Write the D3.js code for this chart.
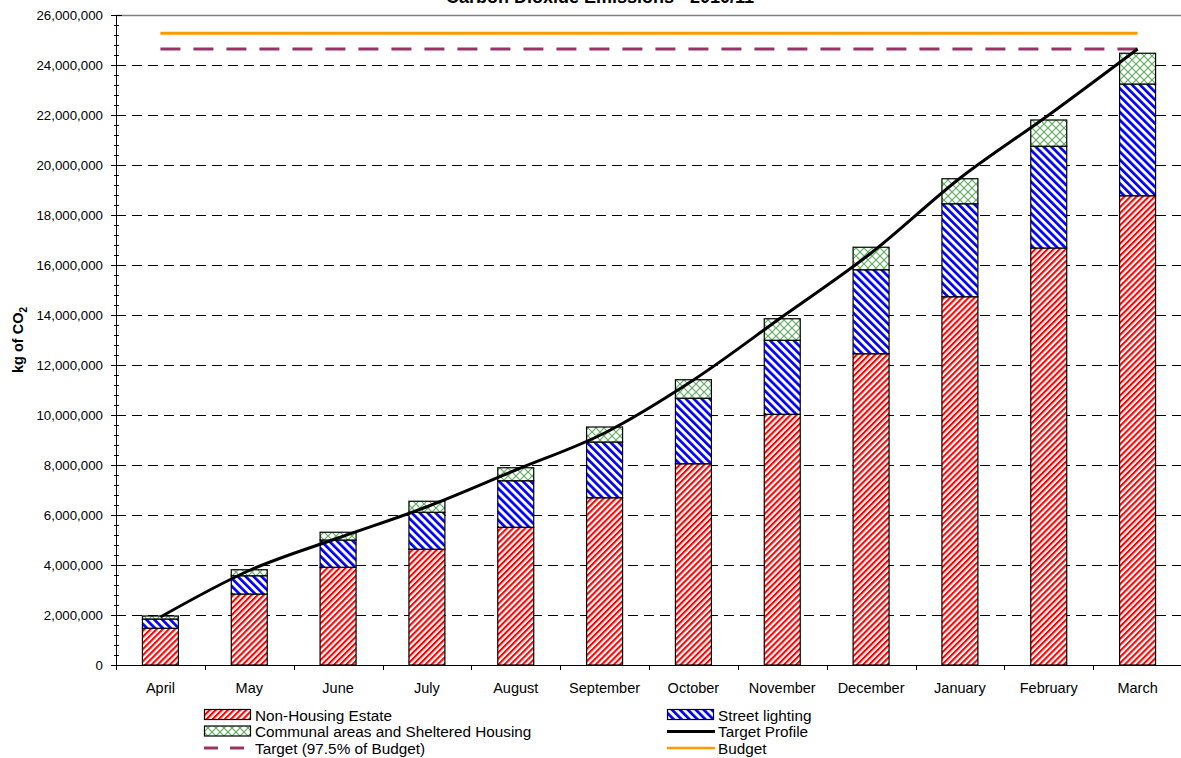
<!DOCTYPE html>
<html>
<head>
<meta charset="utf-8">
<script src="https://cdn.jsdelivr.net/npm/d3@7"></script>
<style>
  html, body { margin: 0; padding: 0; background: #fff; }
  svg { display: block; font-family: Arial, "Liberation Sans", sans-serif; }
</style>
</head>
<body>
<svg id="chart" width="1181" height="758"></svg>
<script>
// ---- data ----
const title = "Carbon Dioxide Emissions - 2010/11";
const months = ["April","May","June","July","August","September","October","November","December","January","February","March"];
const nonHousingEstate = [1470000, 2840000, 3910000, 4630000, 5510000, 6690000, 8050000, 10030000, 12450000, 14730000, 16680000, 18770000];
const streetLighting   = [370000, 730000, 1090000, 1480000, 1860000, 2230000, 2620000, 2960000, 3360000, 3720000, 4070000, 4470000];
const communalAreas    = [120000, 240000, 310000, 440000, 520000, 600000, 740000, 860000, 900000, 1000000, 1050000, 1230000];
const targetProfile    = [1920000, 3780000, 5080000, 6330000, 7800000, 9280000, 11400000, 13930000, 16480000, 19470000, 22000000, 24640000];
const budgetValue = 25270000;
const targetValue = 24638250; // 97.5% of budget
const yTicks = [0, 2000000, 4000000, 6000000, 8000000, 10000000, 12000000, 14000000, 16000000, 18000000, 20000000, 22000000, 24000000, 26000000];
const seriesNames = ["Non-Housing Estate", "Street lighting", "Communal areas and Sheltered Housing"];

// ---- layout ----
const svg = d3.select("#chart");
const L = 116, R = 1182, T = 15, B = 665;

const x = d3.scaleBand().domain(months).range([L, R]).paddingInner(0.595).paddingOuter(0.2975);
const y = d3.scaleLinear().domain([0, 26000000]).range([B, T]);

// ---- patterns ----
const defs = svg.append("defs");
function stripe(id, color, size, width, angle) {
  const p = defs.append("pattern").attr("id", id).attr("patternUnits", "userSpaceOnUse")
    .attr("width", size).attr("height", size).attr("patternTransform", `rotate(${angle})`);
  p.append("rect").attr("width", size).attr("height", size).attr("fill", "#fff");
  p.append("rect").attr("x", 0).attr("y", 0).attr("width", width).attr("height", size).attr("fill", color);
}
stripe("pRed", "#ff0000", 4.3, 2.1, 45);
stripe("pBlue", "#0000ff", 5.6, 2.7, -45);
(function () {
  const s = 8;
  const p = defs.append("pattern").attr("id", "pGreen").attr("patternUnits", "userSpaceOnUse")
    .attr("width", s).attr("height", s);
  p.append("rect").attr("width", s).attr("height", s).attr("fill", "#fff");
  p.append("path").attr("d", `M0,0L${s},${s}M${s},0L0,${s}`).attr("stroke", "#5fae5f").attr("stroke-width", 1.2).attr("fill", "none");
})();
const fills = ["url(#pRed)", "url(#pBlue)", "url(#pGreen)"];

// ---- grid ----
svg.append("g").selectAll("line").data(yTicks.filter(d => d > 0 && d < 26000000)).join("line")
  .attr("x1", L).attr("x2", R).attr("y1", d => y(d) + 0.5).attr("y2", d => y(d) + 0.5)
  .attr("stroke", "#000").attr("stroke-width", 1).attr("stroke-dasharray", "10,6");
// top border
svg.append("line").attr("x1", L).attr("x2", R).attr("y1", T + 0.5).attr("y2", T + 0.5)
  .attr("stroke", "#808080").attr("stroke-width", 1.5);

// ---- stacked bars ----
const rows = months.map((m, i) => ({ month: m, a: nonHousingEstate[i], b: streetLighting[i], c: communalAreas[i] }));
const stack = d3.stack().keys(["a", "b", "c"])(rows);
const gBars = svg.append("g");
stack.forEach((layer, k) => {
  gBars.append("g").selectAll("rect").data(layer).join("rect")
    .attr("x", d => x(d.data.month))
    .attr("y", d => y(d[1]))
    .attr("width", x.bandwidth())
    .attr("height", d => y(d[0]) - y(d[1]))
    .attr("fill", fills[k])
    .attr("stroke", "#000").attr("stroke-width", 1.2);
});

// ---- budget / target lines ----
const first = x(months[0]) + x.bandwidth() / 2, last = x(months[months.length - 1]) + x.bandwidth() / 2;
svg.append("line").attr("x1", first).attr("x2", last).attr("y1", y(budgetValue)).attr("y2", y(budgetValue))
  .attr("stroke", "#ff9900").attr("stroke-width", 3);
svg.append("line").attr("x1", first).attr("x2", last).attr("y1", y(targetValue)).attr("y2", y(targetValue))
  .attr("stroke", "#993366").attr("stroke-width", 3).attr("stroke-dasharray", "20,13");

// ---- target profile (smoothed, as in the original) ----
svg.append("path").datum(targetProfile)
  .attr("d", d3.line().curve(d3.curveCatmullRom.alpha(0)).x((d, i) => x(months[i]) + x.bandwidth() / 2).y(d => y(d)))
  .attr("fill", "none").attr("stroke", "#000").attr("stroke-width", 3);

// ---- axes ----
const yAxis = svg.append("g");
yAxis.append("line").attr("x1", L + 0.5).attr("x2", L + 0.5).attr("y1", T).attr("y2", B + 4).attr("stroke", "#000");
const minor = d3.range(0, 26000001, 400000).filter(d => d % 2000000 !== 0);
yAxis.selectAll(".mn").data(minor).join("line").attr("class", "mn")
  .attr("x1", L - 2).attr("x2", L + 3).attr("y1", d => y(d) + 0.5).attr("y2", d => y(d) + 0.5).attr("stroke", "#000");
yAxis.selectAll(".mj").data(yTicks).join("line").attr("class", "mj")
  .attr("x1", L - 5).attr("x2", L + 6).attr("y1", d => y(d) + 0.5).attr("y2", d => y(d) + 0.5).attr("stroke", "#000");
yAxis.selectAll("text").data(yTicks).join("text")
  .attr("x", L - 13).attr("y", d => y(d)).attr("dy", "0.36em").attr("text-anchor", "end")
  .attr("font-size", 13.3).text(d => d3.format(",")(d));

const xAxis = svg.append("g");
xAxis.append("line").attr("x1", L).attr("x2", R).attr("y1", B + 0.5).attr("y2", B + 0.5).attr("stroke", "#000");
const bounds = months.map((m, i) => L + i * x.step());
xAxis.selectAll(".tk").data(bounds).join("line").attr("class", "tk")
  .attr("x1", d => Math.round(d) + 0.5).attr("x2", d => Math.round(d) + 0.5).attr("y1", B).attr("y2", B + 5).attr("stroke", "#000");
xAxis.selectAll("text").data(months).join("text")
  .attr("x", d => x(d) + x.bandwidth() / 2).attr("y", B + 28).attr("text-anchor", "middle")
  .attr("font-size", 14.5).text(d => d);

// y title
svg.append("text").attr("transform", "translate(23,340) rotate(-90)").attr("text-anchor", "middle")
  .attr("font-size", 14.5).attr("font-weight", "bold")
  .html('kg of CO<tspan font-size="10" dy="4">2</tspan>');

// title (clipped at top, as in the original)
svg.append("text").attr("x", 600).attr("y", 3).attr("text-anchor", "middle")
  .attr("font-size", 18).attr("font-weight", "bold").text(title);

// ---- legend ----
const lg = svg.append("g").attr("font-size", 15.3);
const rowY = [715, 731.5, 748];
const items = [
  { col: 0, row: 0, type: "box", fill: fills[0], label: seriesNames[0] },
  { col: 1, row: 0, type: "box", fill: fills[1], label: seriesNames[1] },
  { col: 0, row: 1, type: "box", fill: fills[2], label: seriesNames[2] },
  { col: 1, row: 1, type: "line", color: "#000", dash: null, w: 3, label: "Target Profile" },
  { col: 0, row: 2, type: "line", color: "#993366", dash: "14,12", w: 3, label: "Target (97.5% of Budget)" },
  { col: 1, row: 2, type: "line", color: "#ff9900", dash: null, w: 2.5, label: "Budget" }
];
const colX = [204, 667];
items.forEach(it => {
  const x0 = colX[it.col], cy = rowY[it.row];
  if (it.type === "box") {
    lg.append("rect").attr("x", x0 + 0.5).attr("y", cy - 5.5).attr("width", 46).attr("height", 10)
      .attr("fill", it.fill).attr("stroke", "#000").attr("stroke-width", 1.2);
  } else {
    lg.append("line").attr("x1", x0).attr("x2", x0 + 48).attr("y1", cy).attr("y2", cy)
      .attr("stroke", it.color).attr("stroke-width", it.w).attr("stroke-dasharray", it.dash);
  }
  lg.append("text").attr("x", x0 + 51).attr("y", cy).attr("dy", "0.36em").text(it.label);
});
</script>
</body>
</html>
